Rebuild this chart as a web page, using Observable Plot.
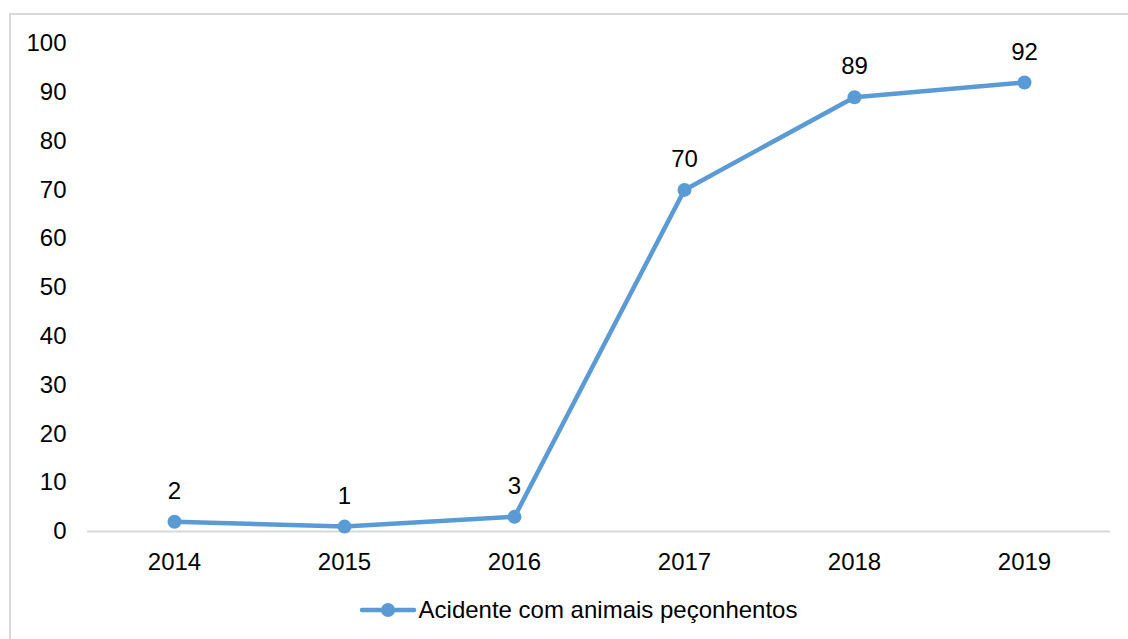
<!DOCTYPE html>
<html>
<head>
<meta charset="utf-8">
<script src="https://cdn.jsdelivr.net/npm/d3@7"></script>
<script src="https://cdn.jsdelivr.net/npm/@observablehq/plot@0.6"></script>
<style>
  html, body { margin: 0; padding: 0; background: #fff; overflow: hidden; width: 1128px; height: 639px; }
  body { position: relative; font-family: "Liberation Sans", Arial, sans-serif; }
  #frame { position: absolute; left: 9px; top: 13px; width: 1300px; height: 800px; border: 2px solid #d9d9d9; box-sizing: border-box; }
  #chart { position: absolute; left: 0; top: 0; }
  #legend { position: absolute; left: 14px; top: 593px; width: 1128px; height: 34px; display: flex; justify-content: center; align-items: center; font-size: 24px; color: #000; }
  #legend .item { display: flex; align-items: center; }
  #legend svg { margin-right: 2px; }
</style>
</head>
<body>
<div id="frame"></div>
<div id="chart"></div>
<div id="legend"></div>
<script>
const years = ["2014", "2015", "2016", "2017", "2018", "2019"];
const values = [2, 1, 3, 70, 89, 92];
const seriesName = "Acidente com animais peçonhentos";
const yTicks = [0, 10, 20, 30, 40, 50, 60, 70, 80, 90, 100];
const color = "#5B9BD5";

const data = years.map((y, i) => ({year: y, value: values[i]}));

const plot = Plot.plot({
  width: 1128,
  height: 570,
  marginLeft: 87,
  marginRight: 18,
  marginTop: 43,
  marginBottom: 39,
  style: {fontFamily: "'Liberation Sans', Arial, sans-serif", fontSize: "24px", color: "#000", background: "transparent", overflow: "visible"},
  x: {type: "band", domain: years, label: null, padding: 0},
  y: {domain: [0, 100], label: null},
  marks: [
    Plot.axisX({tickSize: 0, tickPadding: 21, label: null, fontSize: 24}),
    Plot.axisY({ticks: yTicks, tickSize: 0, tickPadding: 21, label: null, fontSize: 24}),
    Plot.ruleY([0], {stroke: "#d9d9d9", strokeWidth: 2}),
    Plot.line(data, {x: "year", y: "value", stroke: color, strokeWidth: 4.5, strokeLinejoin: "round", strokeLinecap: "round"}),
    Plot.dot(data, {x: "year", y: "value", r: 7, fill: color, stroke: "none"}),
    Plot.text(data, {x: "year", y: "value", text: d => String(d.value), dy: -30.5, fontSize: 24, fill: "#000"})
  ]
});
document.getElementById("chart").appendChild(plot);

const legend = document.getElementById("legend");
const item = document.createElement("div");
item.className = "item";
const ns = "http://www.w3.org/2000/svg";
const sw = document.createElementNS(ns, "svg");
sw.setAttribute("width", 58);
sw.setAttribute("height", 20);
const ln = document.createElementNS(ns, "line");
ln.setAttribute("x1", 3); ln.setAttribute("x2", 55); ln.setAttribute("y1", 10); ln.setAttribute("y2", 10);
ln.setAttribute("stroke", color); ln.setAttribute("stroke-width", 4.5); ln.setAttribute("stroke-linecap", "round");
const c = document.createElementNS(ns, "circle");
c.setAttribute("cx", 29); c.setAttribute("cy", 10); c.setAttribute("r", 7); c.setAttribute("fill", color);
sw.appendChild(ln); sw.appendChild(c);
const label = document.createElement("span");
label.textContent = seriesName;
item.appendChild(sw); item.appendChild(label);
legend.appendChild(item);
</script>
</body>
</html>
